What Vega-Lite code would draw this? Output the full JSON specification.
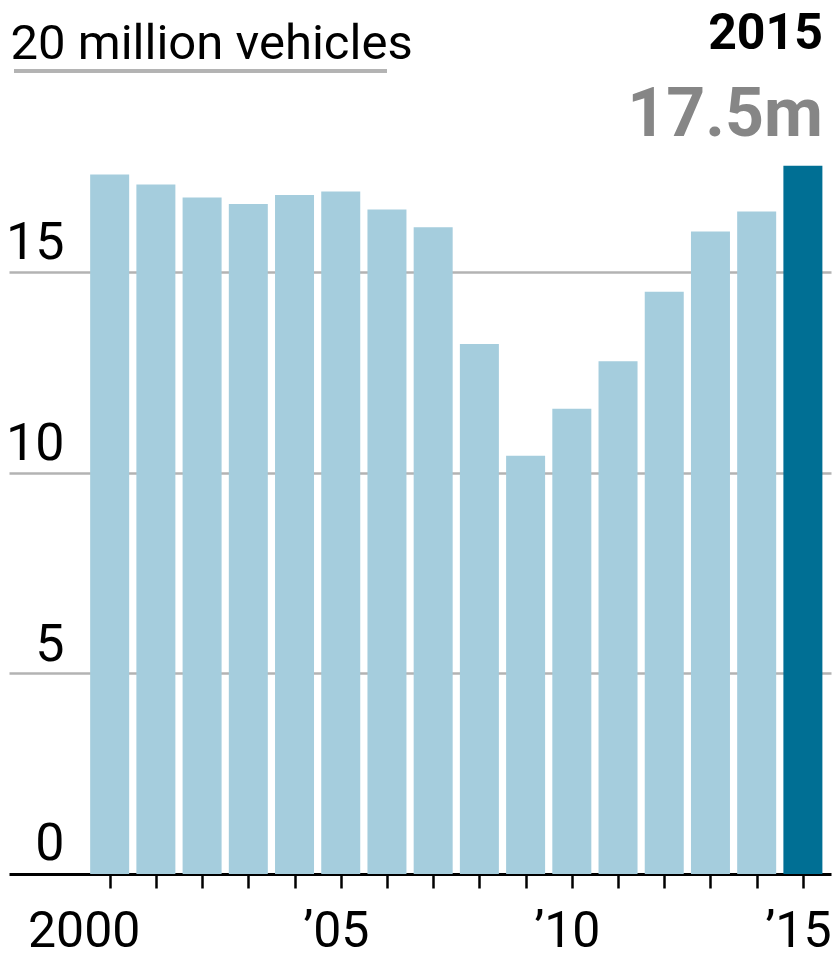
{
  "$schema": "https://vega.github.io/schema/vega-lite/v6.json",
  "autosize": {"type": "none"},
  "padding": {"left": 9, "top": 71, "right": 2, "bottom": 85},
  "width": 822,
  "height": 803,
  "background": "white",
  "config": {"view": {"stroke": null}, "font": "Roboto"},
  "data": {
    "values": [
      {"year": 2000, "sales": 17.42},
      {"year": 2001, "sales": 17.17},
      {"year": 2002, "sales": 16.85},
      {"year": 2003, "sales": 16.69},
      {"year": 2004, "sales": 16.91},
      {"year": 2005, "sales": 17.0},
      {"year": 2006, "sales": 16.55},
      {"year": 2007, "sales": 16.11},
      {"year": 2008, "sales": 13.2},
      {"year": 2009, "sales": 10.42},
      {"year": 2010, "sales": 11.59},
      {"year": 2011, "sales": 12.77},
      {"year": 2012, "sales": 14.5},
      {"year": 2013, "sales": 16.0},
      {"year": 2014, "sales": 16.5},
      {"year": 2015, "sales": 17.64}
    ]
  },
  "layer": [
    {
      "mark": {"type": "bar", "size": 39},
      "encoding": {
        "x": {
          "field": "year",
          "type": "quantitative",
          "scale": {"domain": [1997.93, 2015.5], "nice": false, "zero": false},
          "axis": {
            "title": null,
            "values": [2000, 2001, 2002, 2003, 2004, 2005, 2006, 2007, 2008, 2009, 2010, 2011, 2012, 2013, 2014, 2015],
            "grid": false,
            "domain": true,
            "domainColor": "black",
            "domainWidth": 3,
            "ticks": true,
            "tickColor": "black",
            "tickWidth": 2.5,
            "tickSize": 14,
            "labelFont": "Roboto",
            "labelFontSize": 50,
            "labelColor": "black",
            "labelBaseline": "alphabetic",
            "labelPadding": 58,
            "labelAlign": "center",
            "labelFlush": false,
            "labelOverlap": false,
            "labelBound": false,
            "labelLimit": 0,
            "labelOffset": {"condition": {"test": "datum.value == 2000", "value": -26}, "value": -5},
            "labelExpr": "datum.value == 2000 ? '2000' : (datum.value % 5 == 0 ? '’' + substring(toString(datum.value), 2) : '')"
          }
        },
        "y": {
          "field": "sales",
          "type": "quantitative",
          "scale": {"domain": [0, 20], "nice": false},
          "axis": {
            "title": null,
            "values": [0, 5, 10, 15, 20],
            "domain": false,
            "ticks": false,
            "tickSize": 0,
            "grid": true,
            "gridColor": "#b3b3b3",
            "gridWidth": 2.5,
            "gridOpacity": {"condition": {"test": "datum.value == 0 || datum.value == 20", "value": 0}, "value": 1},
            "labelFont": "Roboto",
            "labelFontSize": {"condition": {"test": "datum.value == 20", "value": 49}, "value": 52},
            "labelColor": "black",
            "labelBaseline": "alphabetic",
            "labelAlign": {"condition": {"test": "datum.value == 20", "value": "left"}, "value": "right"},
            "labelPadding": {"condition": {"test": "datum.value == 20", "value": -1}, "value": -55},
            "labelOffset": {"condition": {"test": "datum.value == 0", "value": -15}, "value": -13},
            "labelFlush": false,
            "labelOverlap": false,
            "labelBound": false,
            "labelLimit": 0,
            "labelExpr": "datum.value == 20 ? '20 million vehicles' : datum.label"
          }
        },
        "color": {
          "condition": {"test": "datum.year == 2015", "value": "#006f94"},
          "value": "#a5cddd"
        }
      }
    },
    {
      "mark": {"type": "rule", "color": "#b3b3b3", "strokeWidth": 2.5},
      "encoding": {
        "x": {"datum": 1997.93, "type": "quantitative"},
        "x2": {"datum": 2006},
        "y": {"datum": 20, "type": "quantitative"}
      }
    },
    {
      "transform": [{"filter": "datum.year == 2015"}],
      "mark": {"type": "text", "align": "right", "baseline": "alphabetic", "dx": 20, "dy": -22, "font": "Roboto", "fontWeight": "bold", "fontSize": 50, "color": "black"},
      "encoding": {
        "x": {"field": "year", "type": "quantitative"},
        "y": {"datum": 20, "type": "quantitative"},
        "text": {"field": "year", "type": "nominal"}
      }
    },
    {
      "transform": [{"filter": "datum.year == 2015"}],
      "mark": {"type": "text", "align": "right", "baseline": "alphabetic", "dx": 20, "dy": 65, "font": "Roboto", "fontWeight": "bold", "fontSize": 68, "color": "#868686"},
      "encoding": {
        "x": {"field": "year", "type": "quantitative"},
        "y": {"datum": 20, "type": "quantitative"},
        "text": {"value": "17.5m"}
      }
    }
  ]
}
